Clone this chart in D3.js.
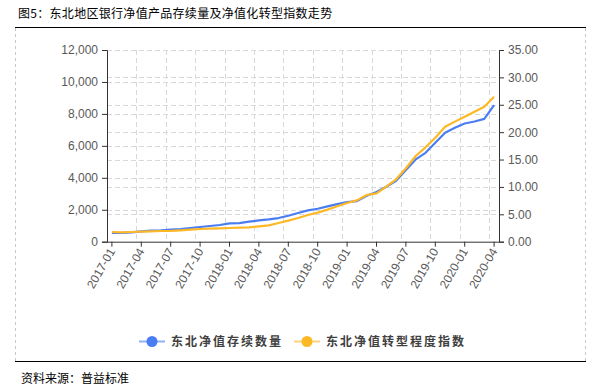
<!DOCTYPE html>
<html><head><meta charset="utf-8">
<script src="https://cdn.jsdelivr.net/npm/d3@7/dist/d3.min.js"></script>
<style>
body{margin:0;background:#fff;}
svg{display:block;}
</style></head>
<body>
<svg id="c" width="600" height="388"></svg>
<script>
const months = ["2017-01","2017-02","2017-03","2017-04","2017-05","2017-06","2017-07","2017-08","2017-09","2017-10","2017-11","2017-12",
"2018-01","2018-02","2018-03","2018-04","2018-05","2018-06","2018-07","2018-08","2018-09","2018-10","2018-11","2018-12",
"2019-01","2019-02","2019-03","2019-04","2019-05","2019-06","2019-07","2019-08","2019-09","2019-10","2019-11","2019-12",
"2020-01","2020-02","2020-03","2020-04"];
const tickLabels = ["2017-01","2017-04","2017-07","2017-10","2018-01","2018-04","2018-07","2018-10","2019-01","2019-04","2019-07","2019-10","2020-01","2020-04"];
const countValues = [544,548,585,648,690,710,752,794,856,919,981,1044,1148,1160,1252,1335,1398,1481,1627,1794,1960,2065,2210,2356,2481,2544,2877,3106,3440,3815,4481,5148,5565,6190,6815,7127,7398,7523,7690,8544];
const indexValues = [1.77,1.71,1.77,1.83,1.89,1.95,1.97,2.08,2.20,2.32,2.38,2.44,2.50,2.56,2.62,2.81,2.99,3.41,3.84,4.33,4.87,5.30,5.85,6.46,7.07,7.55,8.53,8.83,10.05,11.39,13.40,15.65,17.23,18.99,21.00,21.92,22.83,23.74,24.65,26.48];
const leftTicks = [0,2000,4000,6000,8000,10000,12000];
const rightTicks = [0,5,10,15,20,25,30,35];
const seriesNames = ["东北净值存续数量","东北净值转型程度指数"];
const title = "图5：东北地区银行净值产品存续量及净值化转型指数走势";
const source = "资料来源：普益标准";

const blue = "#4a7df2", yellow = "#fdb826";
const svg = d3.select("#c");
const L = 107, R = 499, T = 50, B = 241.7;

// frame
svg.append("text").attr("x",18).attr("y",18).text(title)
  .style("font-family","'Noto Sans CJK SC'").style("font-size","12px").attr("fill","#000").style("letter-spacing","0.3px");
svg.append("line").attr("x1",15).attr("x2",586).attr("y1",27.5).attr("y2",27.5).attr("stroke","#000").attr("stroke-width",1.2);
svg.append("line").attr("x1",15).attr("x2",586).attr("y1",361.5).attr("y2",361.5).attr("stroke","#000").attr("stroke-width",1.2);
[15.5,585.5].forEach(x=>svg.append("line").attr("x1",x).attr("x2",x).attr("y1",28).attr("y2",361)
  .attr("stroke","#c8c8c8").attr("stroke-dasharray","3,3"));
svg.append("text").attr("x",21).attr("y",383).text(source)
  .style("font-family","'Noto Sans CJK SC'").style("font-size","12px").attr("fill","#000");

const x = d3.scaleBand().domain(months).range([L,R]);
const xc = m => x(m) + x.bandwidth()/2;
const yL = d3.scaleLinear().domain([0,12000]).range([B,T]);
const yR = d3.scaleLinear().domain([0,35]).range([B,T]);

const grid = svg.append("g").attr("stroke","#d9d9d9").attr("stroke-dasharray","5,3");
leftTicks.filter(v=>v>0).forEach(v=>grid.append("line").attr("x1",L).attr("x2",R).attr("y1",Math.round(yL(v))+0.5).attr("y2",Math.round(yL(v))+0.5));
rightTicks.filter(v=>v>0&&v<35).forEach(v=>grid.append("line").attr("x1",L).attr("x2",R).attr("y1",Math.round(yR(v))+0.5).attr("y2",Math.round(yR(v))+0.5));
tickLabels.slice(1).forEach(m=>{const gx=Math.round(x(m))+0.5; grid.append("line").attr("x1",gx).attr("x2",gx).attr("y1",T).attr("y2",B);});

const axisFont = "'Liberation Sans', Arial, sans-serif";
const gl = svg.append("g").attr("transform",`translate(${L},0)`)
  .call(d3.axisLeft(yL).tickValues(leftTicks).tickFormat(d3.format(",")).tickSize(5).tickPadding(4));
const gr = svg.append("g").attr("transform",`translate(${R},0)`)
  .call(d3.axisRight(yR).tickValues(rightTicks).tickFormat(d3.format(".2f")).tickSize(5).tickPadding(4));
const xb = d3.scalePoint().domain(months).range([xc(months[0]), xc(months[months.length-1])]);
const gb = svg.append("g").attr("transform",`translate(0,${B})`)
  .call(d3.axisBottom(x).tickValues(tickLabels).tickSize(5).tickPadding(3));
[gl,gr,gb].forEach(g=>{
  g.selectAll("path,line").attr("stroke","#333");
  g.selectAll("text").style("font-family",axisFont).style("font-size","12px").attr("fill","#595959");
});
gb.select(".domain").attr("d",`M${L},0.5H${R}`);
gb.selectAll("text").attr("text-anchor","end").attr("dy","0.35em")
  .attr("transform","translate(2,4) rotate(-60)").attr("x",-4).attr("y",0);

const lineL = d3.line().x((d,i)=>xc(months[i])).y(d=>yL(d));
const lineR = d3.line().x((d,i)=>xc(months[i])).y(d=>yR(d));
svg.append("path").datum(countValues).attr("d",lineL).attr("fill","none").attr("stroke",blue).attr("stroke-width",2.2).attr("stroke-linejoin","round");
svg.append("path").datum(indexValues).attr("d",lineR).attr("fill","none").attr("stroke",yellow).attr("stroke-width",2.2).attr("stroke-linejoin","round");

// legend
const legend = [{name:seriesNames[0],c:blue,x:139},{name:seriesNames[1],c:yellow,x:294}];
legend.forEach(l=>{
  const g = svg.append("g");
  g.append("line").attr("x1",l.x).attr("x2",l.x+26).attr("y1",341.5).attr("y2",341.5).attr("stroke",l.c).attr("stroke-width",2).attr("opacity",0.6);
  g.append("circle").attr("cx",l.x+13).attr("cy",341.5).attr("r",5.5).attr("fill",l.c);
  g.append("text").attr("x",l.x+32).attr("y",346).text(l.name)
    .style("font-family","'Noto Sans CJK SC'").style("font-size","12px").style("font-weight","bold")
    .style("letter-spacing","2px").attr("fill","#404040");
});
</script>
</body></html>
